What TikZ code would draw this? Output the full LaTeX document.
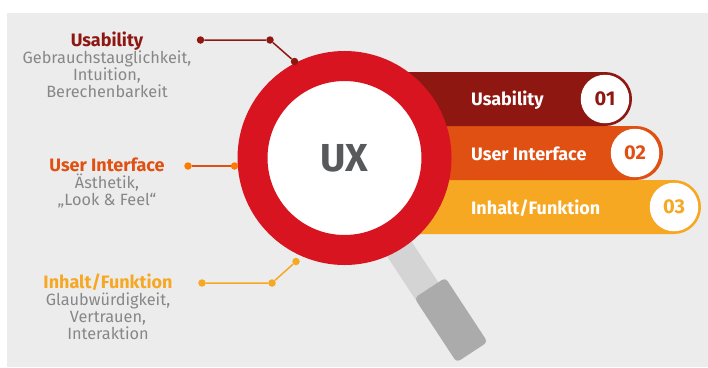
\documentclass[tikz,border=0pt]{standalone}
\usepackage{fontspec}
\setmainfont{Fira Sans}
\usetikzlibrary{positioning}
\definecolor{uxdark}{HTML}{8F1712}
\definecolor{uxorange}{HTML}{E05012}
\definecolor{uxyellow}{HTML}{F7A823}
\definecolor{uxred}{HTML}{D7141F}
\definecolor{uxback}{HTML}{ECECEC}
\definecolor{uxtext}{HTML}{878787}
\definecolor{uxtitle}{HTML}{58595B}
\newcommand{\sidehead}[2]{\textcolor{#1}{\fontsize{18}{17}\selectfont\bfseries #2}}

\begin{document}
\begin{tikzpicture}[x=1pt,y=-1pt]
\tikzstyle{dot}=[circle, inner sep=0pt, minimum size=7.5pt]
\tikzstyle{numdot}=[circle, fill=white, inner sep=0pt, minimum size=48.5pt, font=\fontsize{20}{20}\selectfont\bfseries]
\tikzstyle{barlabel}=[anchor=west, inner sep=0pt, text=white, font=\fontsize{18}{18}\selectfont\bfseries]
\tikzstyle{sidelabel}=[anchor=north, inner sep=0pt, align=center, text=uxtext, font=\fontsize{16.3}{17}\selectfont]

\useasboundingbox (0,0) rectangle (708,367);
\fill[uxback] (7,13) rectangle (708,367);

% handle
\node[fill=black!17, rectangle, rotate=-56.7, minimum width=100pt, minimum height=28.5pt](shaft) at (400,250){};
\node[fill=black!33, rectangle, rounded corners=4pt, rotate=-56.7, minimum width=77pt, minimum height=37pt](grip) at (451,320){};

% bars
\fill[uxyellow] (380,180) -- (674,180) arc[start angle=-90, end angle=90, radius=27] -- (380,234) -- cycle;
\fill[uxorange] (380,126) -- (636,126) arc[start angle=-90, end angle=90, radius=27] -- (380,180) -- cycle;
\fill[uxdark] (380,72) -- (605,72) arc[start angle=-90, end angle=90, radius=27] -- (380,126) -- cycle;

% lens
\node[circle, fill=white, draw=uxred, line width=30pt, inner sep=0pt, minimum size=184pt, font=\fontsize{39}{39}\selectfont\bfseries, text=uxtitle](lens) at (344.5,158){UX};

\node[barlabel](bar1) at (471,100.5){Usability};
\node[barlabel](bar2) at (471,154){User Interface};
\node[barlabel](bar3) at (471,208){Inhalt/Funktion};

\node[numdot, text=uxdark](num1) at (605,99){01};
\node[numdot, text=uxorange](num2) at (635,153){02};
\node[numdot, text=uxyellow](num3) at (674,207){03};

% left labels
\node[sidelabel](usab) at (107,31.5){\sidehead{uxdark}{Usability}\\Gebrauchstauglichkeit,\\Intuition,\\Berechenbarkeit};
\node[sidelabel](ui) at (107,157.5){\sidehead{uxorange}{User Interface}\\Ästhetik,\\„Look \& Feel“};
\node[sidelabel](inh) at (108,274){\sidehead{uxyellow}{Inhalt/Funktion}\\Glaubwürdigkeit,\\Vertrauen,\\Interaktion};

% connectors
\node[dot, fill=uxdark](a1) at (200.5,40){};
\node[dot, fill=uxdark](a2) at (270,40){};
\node[dot, fill=uxdark](a3) at (294.5,61.5){};
\node[dot, fill=orange!90!uxorange](b1) at (188,166){};
\node[dot, fill=orange!90!uxorange](b2) at (234.5,166){};
\node[dot, fill=uxyellow](c1) at (202,283){};
\node[dot, fill=uxyellow](c2) at (272,283){};
\node[dot, fill=uxyellow](c3) at (296,261.5){};

\path[draw, uxdark, line width=1.5pt](a1) -- (a2) -- (a3);
\path[draw, uxorange, line width=1.5pt](b1) -- (b2);
\path[draw, uxyellow, line width=1.5pt](c1) -- (c2) -- (c3);

\end{tikzpicture}
\end{document}
